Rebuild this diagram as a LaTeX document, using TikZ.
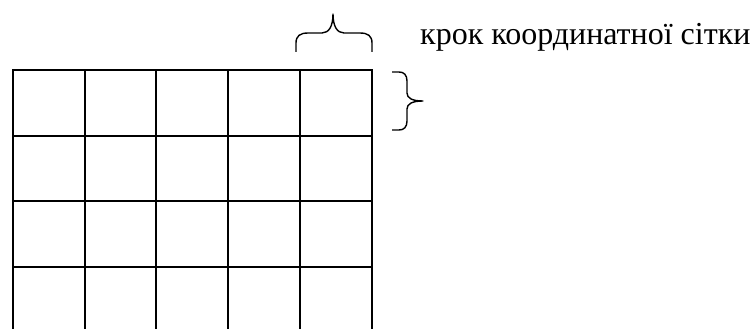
\documentclass[tikz,border=0pt]{standalone}
\usepackage{fontspec}
\setmainfont{Liberation Serif}
\begin{document}
\begin{tikzpicture}[x=1pt,y=-1pt,
  gridline/.style={line width=1.5pt,line cap=rect},
  bracestyle/.style={line width=1.4pt,line join=round},
  label/.style={inner sep=0pt,anchor=base west,font=\fontsize{32}{36}\selectfont}]
\useasboundingbox (0,0) rectangle (755,329);
% grid
\foreach \x in {13,85,156,228,300,372}
  \draw[gridline] (\x,70) -- (\x,330);
\foreach \y in {70,136,201,267}
  \draw[gridline] (13,\y) -- (372,\y);
% top brace
\draw[bracestyle] (296,52) -- (296,43) .. controls (296,36) and (300,33) .. (308,33)
  -- (322,33) .. controls (329,33) and (333,26) .. (333,14)
  .. controls (333,26) and (337,33) .. (344,33) -- (360,33)
  .. controls (368,33) and (372,36) .. (372,43) -- (372,52);
% right brace
\draw[bracestyle] (392,72) -- (399,72) .. controls (404,72) and (407,75) .. (407,81)
  -- (407,93) .. controls (407,98) and (412,101) .. (423,101)
  .. controls (412,101) and (407,104) .. (407,109) -- (407,121)
  .. controls (407,127) and (404,130) .. (399,130) -- (392,130);
\node[label] (lbl) at (420,45) {крок координатної сітки};
\end{tikzpicture}
\end{document}
